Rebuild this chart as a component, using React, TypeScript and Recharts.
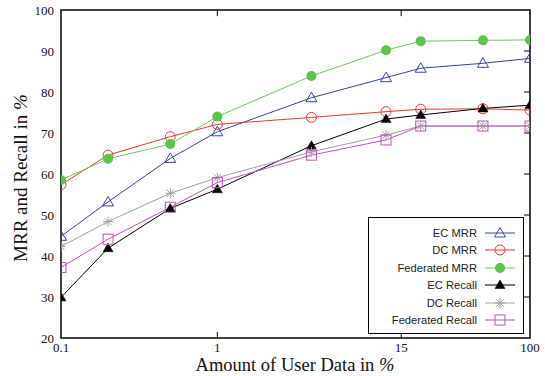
import { LineChart, Line, XAxis, YAxis, ReferenceArea, ReferenceLine } from "recharts";

const xValues = [0.1, 0.2, 0.5, 1, 4, 12, 20, 50, 100];
const ecMrr = [44.8, 53.2, 63.8, 70.3, 78.6, 83.5, 85.8, 87.0, 88.2];
const dcMrr = [57.4, 64.6, 69.1, 72.1, 73.8, 75.2, 75.8, 75.9, 75.6];
const fedMrr = [58.5, 63.7, 67.3, 74.0, 83.9, 90.2, 92.4, 92.6, 92.7];
const ecRecall = [29.9, 41.9, 51.6, 56.3, 66.9, 73.4, 74.4, 76.0, 76.8];
const dcRecall = [42.3, 48.4, 55.3, 59.1, 65.4, 69.5, 71.7, 71.7, 71.7];
const fedRecall = [37.2, 44.1, 51.9, 57.9, 64.6, 68.3, 71.7, 71.7, 71.7];

const xTicks = [0.1, 1, 15, 100];
const yTicks = [20, 30, 40, 50, 60, 70, 80, 90, 100];

type Kind = "tri" | "circle" | "dot" | "ftri" | "star" | "square";

const series: { key: string; name: string; color: string; markColor: string; kind: Kind; values: number[] }[] = [
  { key: "ecMrr", name: "EC MRR", color: "#3443a8", markColor: "#3443a8", kind: "tri", values: ecMrr },
  { key: "dcMrr", name: "DC MRR", color: "#e8382c", markColor: "#e8382c", kind: "circle", values: dcMrr },
  { key: "fedMrr", name: "Federated MRR", color: "#6ccc5a", markColor: "#5bc44a", kind: "dot", values: fedMrr },
  { key: "ecRecall", name: "EC Recall", color: "#000000", markColor: "#000000", kind: "ftri", values: ecRecall },
  { key: "dcRecall", name: "DC Recall", color: "#a0a0a0", markColor: "#a0a0a0", kind: "star", values: dcRecall },
  { key: "fedRecall", name: "Federated Recall", color: "#c04fc0", markColor: "#c04fc0", kind: "square", values: fedRecall },
];

const data = xValues.map((x, i) => {
  const row: Record<string, number> = { x };
  series.forEach((s) => (row[s.key] = s.values[i]));
  return row;
});

function Marker({ kind, cx, cy, color }: { kind: Kind; cx: number; cy: number; color: string }) {
  switch (kind) {
    case "tri":
      return <polygon points={`${cx},${cy - 5.5} ${cx - 5.5},${cy + 4} ${cx + 5.5},${cy + 4}`} fill="none" stroke={color} strokeWidth={1} />;
    case "ftri":
      return <polygon points={`${cx},${cy - 5} ${cx - 5},${cy + 3.5} ${cx + 5},${cy + 3.5}`} fill={color} stroke={color} strokeWidth={0.5} />;
    case "circle":
      return <circle cx={cx} cy={cy} r={5} fill="none" stroke={color} strokeWidth={1} />;
    case "dot":
      return <circle cx={cx} cy={cy} r={5} fill={color} />;
    case "square":
      return <rect x={cx - 5} y={cy - 5} width={10} height={10} fill="none" stroke={color} strokeWidth={1} />;
    case "star":
      return (
        <g stroke={color} strokeWidth={1}>
          <line x1={cx - 5} y1={cy} x2={cx + 5} y2={cy} />
          <line x1={cx} y1={cy - 5} x2={cx} y2={cy + 5} />
          <line x1={cx - 3.7} y1={cy - 3.7} x2={cx + 3.7} y2={cy + 3.7} />
          <line x1={cx - 3.7} y1={cy + 3.7} x2={cx + 3.7} y2={cy - 3.7} />
        </g>
      );
  }
}

const serif = "Liberation Serif";
const sans = "Liberation Sans";

const XTick = ({ x, y, payload }: any) => (
  <text x={x} y={y + 9} textAnchor="middle" fontFamily={serif} fontSize={13} fill="#111">
    {payload.value}
  </text>
);

const YTick = ({ x, y, payload }: any) => (
  <text x={x} y={y + 4.5} textAnchor="end" fontFamily={serif} fontSize={13} fill="#111">
    {payload.value}
  </text>
);

export default function App() {
  return (
    <div style={{ position: "absolute", left: 0, top: 0, width: 545, height: 376, background: "#fff" }}>
      <LineChart width={545} height={376} data={data} margin={{ top: 10, right: 15, left: 0, bottom: 0 }}>
        <XAxis
          dataKey="x"
          type="number"
          scale="log"
          domain={[0.1, 100]}
          ticks={xTicks}
          allowDataOverflow
          height={38}
          axisLine={false}
          tickLine={false}
          tickSize={0}
          tickMargin={5}
          tick={<XTick />}
        />
        <YAxis
          type="number"
          domain={[20, 100]}
          ticks={yTicks}
          width={61}
          axisLine={false}
          tickLine={false}
          tickSize={0}
          tickMargin={7}
          tick={<YTick />}
        />
        {[1, 15].map((v) => (
          <ReferenceLine key={`b${v}`} segment={[{ x: v, y: 20 }, { x: v, y: 21.5 }]} stroke="#000" strokeWidth={1} />
        ))}
        {[1, 15].map((v) => (
          <ReferenceLine key={`t${v}`} segment={[{ x: v, y: 100 }, { x: v, y: 98.5 }]} stroke="#000" strokeWidth={1} />
        ))}
        {yTicks.slice(1, -1).map((v) => (
          <ReferenceLine key={`r${v}`} segment={[{ x: 91.5, y: v }, { x: 100, y: v }]} stroke="#000" strokeWidth={1} />
        ))}
        {series.map((s) => (
          <Line
            key={s.key}
            dataKey={s.key}
            name={s.name}
            stroke={s.color}
            strokeWidth={1}
            isAnimationActive={false}
            dot={(p: any) => <Marker key={`${s.key}-${p.index}`} kind={s.kind} cx={p.cx} cy={p.cy} color={s.markColor} />}
          />
        ))}
        <ReferenceArea x1={0.1} x2={100} y1={20} y2={100} fill="none" fillOpacity={0} stroke="#000" strokeWidth={1.5} />
      </LineChart>

      <div
        style={{
          position: "absolute",
          left: 368,
          top: 217,
          width: 156,
          height: 117,
          border: "1px solid #000",
          background: "#fff",
          boxSizing: "border-box",
        }}
      >
        {series.map((s, i) => (
          <div
            key={s.key}
            style={{
              position: "absolute",
              left: 0,
              top: 6 + i * 17.5,
              width: 152,
              height: 17.5,
              display: "flex",
              alignItems: "center",
              justifyContent: "flex-end",
              fontFamily: sans,
              fontSize: 11.2,
              color: "#222",
            }}
          >
            <span>{s.name}</span>
            <svg width={38} height={14} style={{ marginLeft: 6 }}>
              <line x1={2} y1={7} x2={32} y2={7} stroke={s.color} strokeWidth={1} />
              <Marker kind={s.kind} cx={17} cy={7} color={s.markColor} />
            </svg>
          </div>
        ))}
      </div>

      <svg width={545} height={376} style={{ position: "absolute", left: 0, top: 0, pointerEvents: "none" }}>
        <text x={295} y={371} textAnchor="middle" fontFamily={serif} fontSize={18.5} fill="#111">
          Amount of User Data in <tspan fontStyle="italic">%</tspan>
        </text>
        <text x={27} y={178} textAnchor="middle" fontFamily={serif} fontSize={19} fill="#111" transform="rotate(-90 27 178)">
          MRR and Recall in <tspan fontStyle="italic">%</tspan>
        </text>
      </svg>
    </div>
  );
}
